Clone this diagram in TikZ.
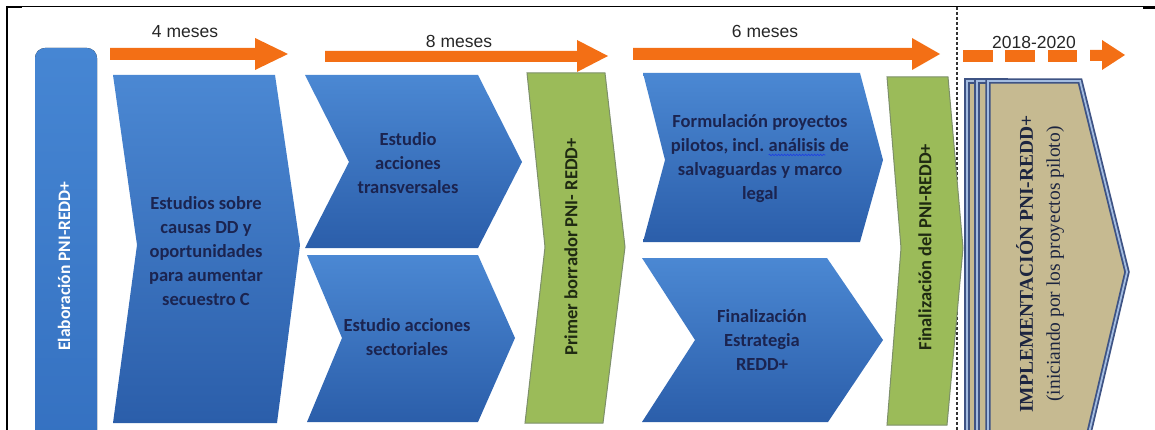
\documentclass[tikz,border=0pt]{standalone}
\usepackage{fontspec}
\usetikzlibrary{decorations.pathmorphing}
\newfontfamily\carl{Carlito}
\newfontfamily\arl{Liberation Sans}
\newfontfamily\tms{Liberation Serif}
\definecolor{orng}{HTML}{F36F15}
\definecolor{bluetop}{HTML}{4B88D3}
\definecolor{bluebot}{HTML}{2B5EAA}
\definecolor{elabtop}{HTML}{4686D3}
\definecolor{elabbot}{HTML}{3470C0}
\definecolor{grn}{HTML}{9BBB59}
\definecolor{grnline}{HTML}{7D8F6A}
\definecolor{tanfill}{HTML}{C6BA91}
\definecolor{navyline}{HTML}{3E5384}
\definecolor{lightline}{HTML}{A3BCE0}
\definecolor{navytext}{HTML}{1B2450}
\definecolor{darktext}{HTML}{1F2A12}
\definecolor{impltext}{HTML}{1C2540}
\definecolor{spellblue}{HTML}{2040E0}
\newcommand\spellwave[1]{\tikz[baseline=(w.base)]{\node[inner sep=0pt,outer sep=0pt] (w) {#1};\draw[spellblue,line width=0.7pt,decorate,decoration={snake,amplitude=0.7pt,segment length=3pt}] ([yshift=-3pt]w.base west) -- ([yshift=-3pt]w.base east);}}
\begin{document}
\begin{tikzpicture}[x=1pt,y=-1pt,
  bluechev/.style={top color=bluetop,bottom color=bluebot,draw=none},
  greenbox/.style={fill=grn,draw=grnline,line width=1pt},
  tanbox/.style={fill=tanfill,draw=navyline,double=lightline,line width=1.8pt,double distance=1.8pt},
  arrowfill/.style={fill=orng,draw=none},
  chevtext/.style={font=\carl\bfseries\fontsize{18.5}{24}\selectfont,text=navytext,align=center,inner sep=0pt},
  greentext/.style={font=\carl\bfseries\fontsize{18.5}{22}\selectfont,text=darktext,inner sep=0pt,rotate=90},
  mlabel/.style={font=\arl\fontsize{17.5}{20}\selectfont,text=black!85,inner sep=0pt}]
\useasboundingbox (0,0) rectangle (1155,430);
\begin{scope}
\clip (0,0) rectangle (1155,430);
% frame
\draw[line width=1pt] (7,7) -- (1155,7);
\draw[line width=2pt] (7,7) -- (22,7);
\draw[line width=2pt] (1143,8) -- (1155,8);
\draw[line width=2pt] (7,6) -- (7,430);
% dashed separator
\draw[line width=1.3pt,black!80,dash pattern=on 3pt off 2pt] (957,7) -- (957,430);
% elaboration bar
\fill[top color=elabtop,bottom color=elabbot,rounded corners=10pt] (35,460) -- (35,48) -- (97,48) -- (97,460) -- cycle;
\node[font=\carl\bfseries\fontsize{17.5}{20}\selectfont,text=white,rotate=90,inner sep=0pt] (elab) at (64,266) {Elaboración PNI-REDD+};
% orange arrows
\fill[arrowfill] (110,48) -- (255,48) -- (255,38) -- (288,54) -- (255,70) -- (255,60) -- (110,60) -- cycle;
\fill[arrowfill] (325,51) -- (577,51) -- (577,40) -- (608,56) -- (577,72) -- (577,62) -- (325,62) -- cycle;
\fill[arrowfill] (633,48) -- (912,48) -- (912,38) -- (940,54) -- (912,70) -- (912,60) -- (633,60) -- cycle;
\fill[arrowfill] (963,50) rectangle (993,62);
\fill[arrowfill] (1005,50) rectangle (1035,62);
\fill[arrowfill] (1048,50) rectangle (1077,62);
\fill[arrowfill] (1090,50) -- (1102,50) -- (1102,40) -- (1125,55) -- (1102,70) -- (1102,61) -- (1090,61) -- cycle;
\node[mlabel] (m4) at (185,32) {4 meses};
\node[mlabel] (m8) at (459,41) {8 meses};
\node[mlabel] (m6) at (765,31) {6 meses};
\node[mlabel] (m20) at (1034,42) {2018-2020};
% blue chevrons
\path[bluechev] (113,75) -- (275,75) -- (300,245) -- (277,423) -- (113,423) -- (137,245) -- cycle;
\path[bluechev] (305,75) -- (478,75) -- (522,162) -- (478,248) -- (305,248) -- (349,162) -- cycle;
\path[bluechev] (307,255) -- (478,255) -- (515,338) -- (478,422) -- (307,422) -- (342,338) -- cycle;
\path[bluechev] (643,73) -- (860,73) -- (883,160) -- (860,242) -- (643,242) -- (665,160) -- cycle;
\path[bluechev] (642,258) -- (827,258) -- (883,340) -- (828,422) -- (642,422) -- (695,340) -- cycle;
\node[chevtext] (t1) at (206,251) {Estudios sobre\\causas DD y\\oportunidades\\para aumentar\\secuestro C};
\node[chevtext] (t2) at (408,163) {Estudio\\acciones\\transversales};
\node[chevtext] (t3) at (407,337) {Estudio acciones\\sectoriales};
\node[chevtext] (t4) at (760,159) {Formulación proyectos\\pilotos, incl.\ \spellwave{análisis} de\\salvaguardas y marco\\legal};
\node[chevtext] (t5) at (762,340) {Finalización\\Estrategia\\REDD+};
% green boxes
\path[greenbox] (527,73) -- (605,73) -- (625,247) -- (603,423) -- (525,423) -- (545,247) -- cycle;
\node[greentext] (g1) at (571,247) {Primer borrador PNI- REDD+};
\path[greenbox] (887,77) -- (948,77) -- (963,248) -- (947,425) -- (887,425) -- (901,248) -- cycle;
\node[greentext] (g2) at (925,247) {Finalización del PNI-REDD+};
% implementation stack
\path[tanbox] (967,81) -- (1005,81) -- (1005,450) -- (967,450) -- cycle;
\path[tanbox] (977,81) -- (1005,81) -- (1005,450) -- (977,450) -- cycle;
\path[tanbox] (988,81) -- (1080,81) -- (1127,272) -- (1085,450) -- (988,450) -- cycle;
\node[font=\tms\fontsize{19.5}{27}\selectfont,text=impltext,align=center,rotate=90,inner sep=0pt] (impl) at (1040,264) {{\bfseries IMPLEMENTACIÓN PNI-REDD+}\\(iniciando por los proyectos piloto)};
\end{scope}
\end{tikzpicture}
\end{document}
